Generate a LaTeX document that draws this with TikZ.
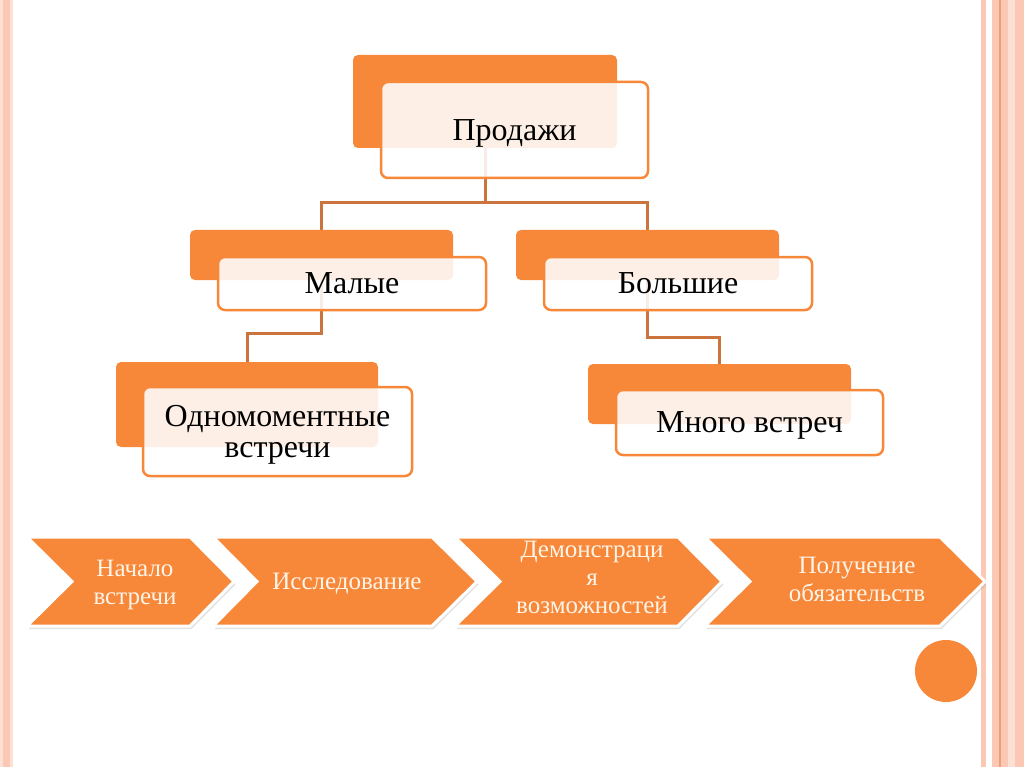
\documentclass[tikz,border=0pt]{standalone}
\usepackage{fontspec}
\setmainfont{Liberation Serif}
\usetikzlibrary{shadows,calc}
\pgfdeclarelayer{bottom}
\pgfdeclarelayer{background}
\pgfsetlayers{bottom,background,main}
\definecolor{org}{RGB}{247,136,58}
\definecolor{conncol}{RGB}{204,116,62}
\definecolor{stripe}{RGB}{251,200,182}
\definecolor{stripelt}{RGB}{253,224,212}
\definecolor{stripedk}{RGB}{238,160,112}
\definecolor{cream}{RGB}{255,244,232}
\begin{document}
\begin{tikzpicture}[x=1pt,y=-1pt,
  backbox/.style={fill=org, rounded corners=5pt, inner sep=0pt},
  frontbox/.style={draw=org, line width=2.5pt, fill=white, fill opacity=0.87, text opacity=1,
    rounded corners=7pt, align=center, inner sep=0pt, text depth=0pt, font=\fontsize{32}{31}\selectfont},
  conn/.style={draw=conncol, line width=3pt},
  chev/.style={fill=org, draw=white, line width=3pt, line join=miter,
    drop shadow={opacity=0.22, shadow xshift=1.5pt, shadow yshift=-3pt}},
  chevtext/.style={text=cream, align=center, text depth=0pt, font=\fontsize{25}{28}\selectfont},
  dotstyle/.style={circle, fill=org, minimum size=62pt, inner sep=0pt}]
\begin{pgfonlayer}{bottom}
\fill[white] (0,0) rectangle (1024,767);
\end{pgfonlayer}
\useasboundingbox (0,0) rectangle (1024,767);
% border stripes
\fill[stripelt] (0,0) rectangle (13,767);
\fill[stripe] (3,0) rectangle (10,767);
\fill[stripe] (981,0) rectangle (986,767);
\fill[stripe] (992,0) rectangle (1024,767);
\fill[stripelt] (1008,0) rectangle (1015,767);
\draw[stripedk, line width=1.2pt] (1000,0) -- (1000,767);
% tree boxes
\node[backbox, minimum width=264pt, minimum height=93pt] (pB) at (485,101.5) {};
\node[frontbox, minimum width=267pt, minimum height=96pt] (pF) at (514.5,130) {Продажи};
\node[backbox, minimum width=263pt, minimum height=50pt] (mB) at (321.5,255) {};
\node[frontbox, minimum width=268pt, minimum height=53pt] (mF) at (352,283.5) {Малые};
\node[backbox, minimum width=263pt, minimum height=50pt] (bB) at (647.5,255) {};
\node[frontbox, minimum width=268pt, minimum height=53pt] (bF) at (678,283.5) {Большие};
\node[backbox, minimum width=262pt, minimum height=85pt] (oB) at (247,404.5) {};
\node[frontbox, minimum width=269pt, minimum height=89pt] (oF) at (277.5,431.5) {Одномоментные\\встречи};
\node[backbox, minimum width=263pt, minimum height=60pt] (nB) at (719.5,394) {};
\node[frontbox, minimum width=267pt, minimum height=65pt] (nF) at (749.5,422.5) {Много встреч};
% connectors
\begin{pgfonlayer}{background}
\draw[conn] (pB.south) -- ++(0,54) coordinate (j1);
\draw[conn] (mB.north) |- (j1) -| (bB.north);
\draw[conn] (mB.south) -- ++(0,53) -| (oB.north);
\draw[conn] (bB.south) -- ++(0,57) -| (nB.north);
\end{pgfonlayer}
% chevrons
\draw[chev] (27,537) -- (190,537) -- (234,581.5) -- (190,626) -- (27,626) -- (72,581.5) -- cycle;
\draw[chev] (213,537) -- (432,537) -- (477,581.5) -- (432,626) -- (213,626) -- (257,581.5) -- cycle;
\draw[chev] (455,537) -- (678,537) -- (722,581.5) -- (678,626) -- (455,626) -- (500,581.5) -- cycle;
\draw[chev] (705,537) -- (940,537) -- (985,581.5) -- (940,626) -- (705,626) -- (750,581.5) -- cycle;
\node[chevtext] (c1) at (135,582) {Начало\\встречи};
\node[chevtext] (c2) at (347,581) {Исследование};
\node[chevtext] (c3) at (592,577) {Демонстраци\\я\\возможностей};
\node[chevtext] (c4) at (857,579) {Получение\\обязательств};
\node[dotstyle] (dot) at (946,671) {};
\end{tikzpicture}
\end{document}
